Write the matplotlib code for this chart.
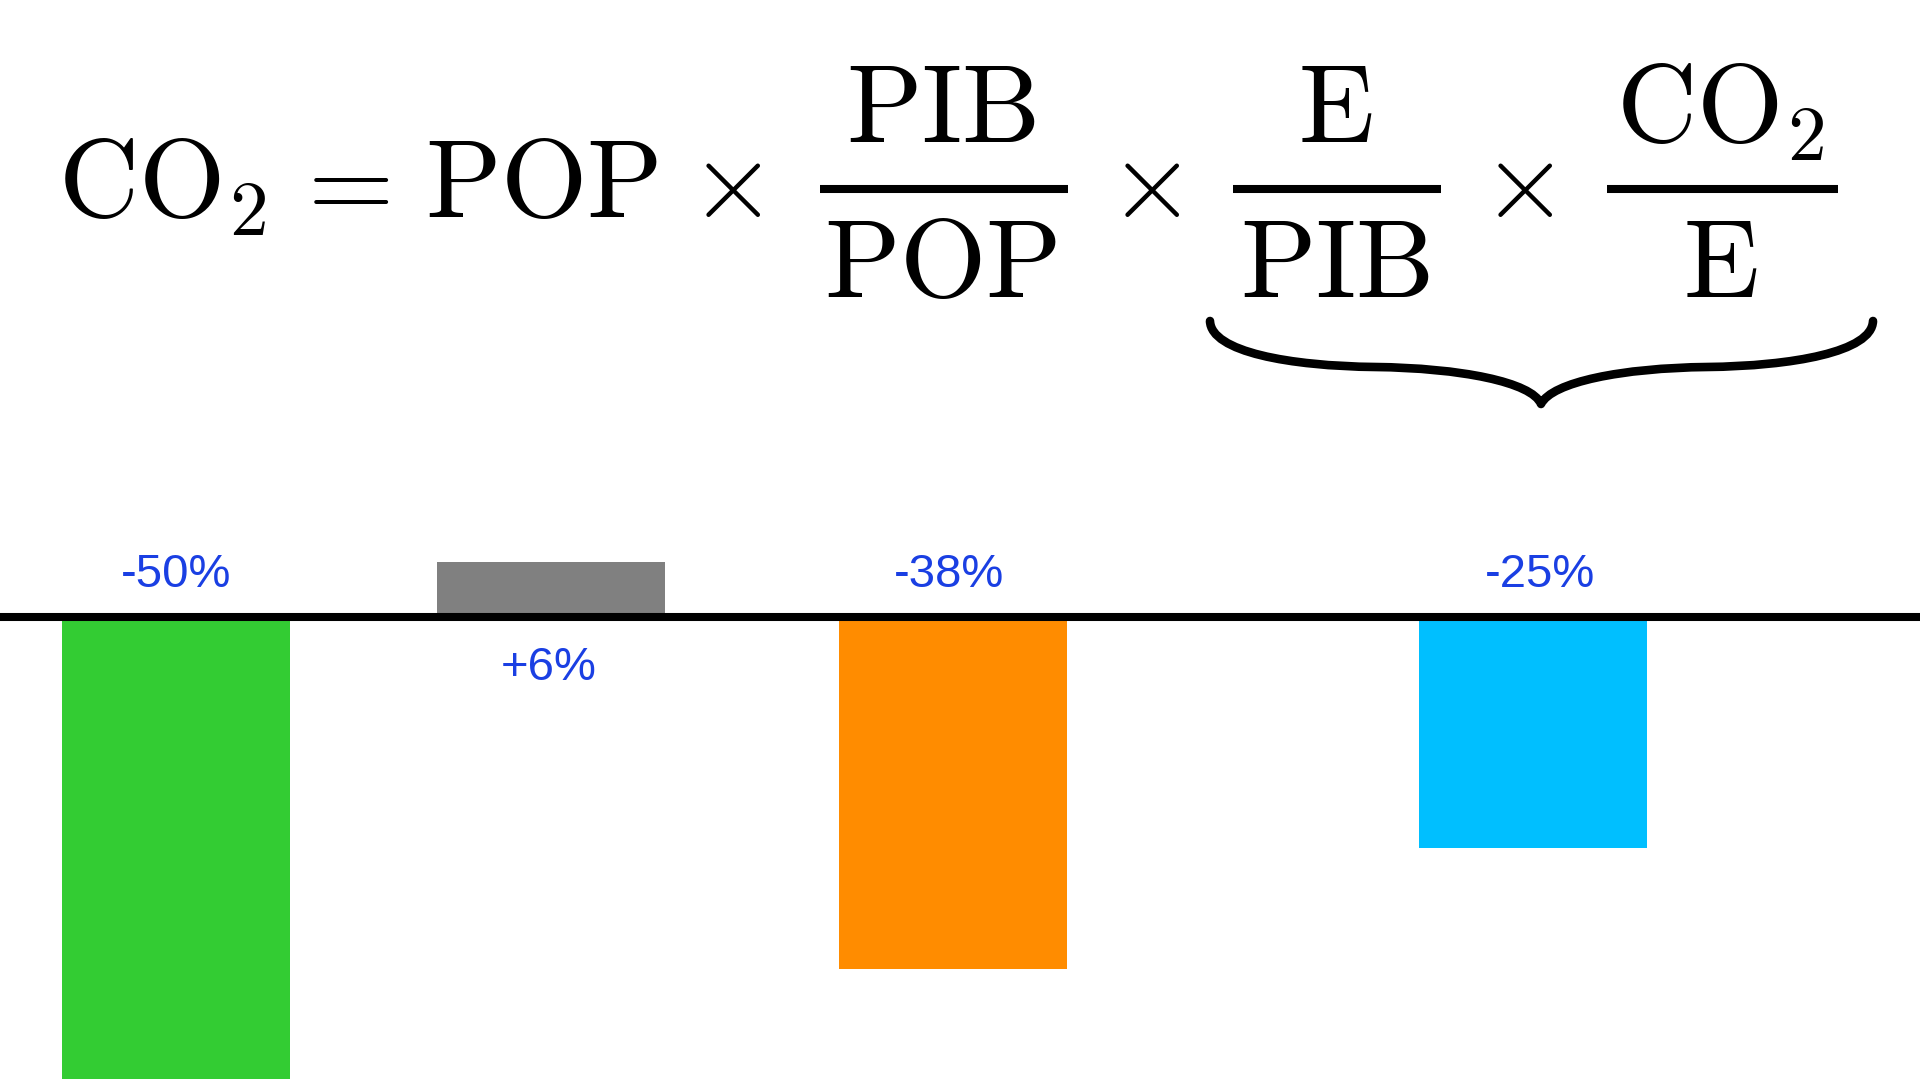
import matplotlib
matplotlib.use("Agg")
import matplotlib.pyplot as plt
from matplotlib.path import Path
from matplotlib.patches import PathPatch

# data
facteurs = ["POP", "PIB/POP", "E/PIB", "CO2/E"]
variations = [-50, 6, -38, -25]
etiquettes = ["-50%", "+6%", "-38%", "-25%"]
couleurs = ["#33cc33", "#808080", "#ff8c00", "#00bfff"]

# positions along x (pixel-like units, 0..1920)
x_pos = [176, 551, 953, 1533]
x_lab = [176, 549, 949, 1540]

plt.rcParams['mathtext.fontset'] = 'cm'
plt.rcParams['font.family'] = ['Liberation Sans', 'DejaVu Sans']

W, H = 1920, 1079
fig = plt.figure(figsize=(W / 100, H / 100), dpi=100)
fig.patch.set_facecolor('white')

# bar chart: zero line at y=617 px from top, 9.25 px per percent
px_per_pct = 9.25
y0 = 617
ax = fig.add_axes([0, 0, 1, 1])
ax.bar(x_pos, variations, width=228, color=couleurs, zorder=2)
ax.axhline(0, color='black', lw=5.8, zorder=3)
for x, v, lab in zip(x_lab, variations, etiquettes):
    off = 30.5 if v < 0 else -36.5
    ax.annotate(lab, (x, 0), xytext=(0, off), textcoords='offset points',
                ha='center', va='center', fontsize=34, color='#1a3fe3')
ax.set_xlim(0, W)
ax.set_ylim(-(H - y0) / px_per_pct, y0 / px_per_pct)
ax.axis('off')

# formula overlay in pixel coordinates
axf = fig.add_axes([0, 0, 1, 1])
axf.set_xlim(0, W)
axf.set_ylim(H, 0)
axf.axis('off')
axf.patch.set_alpha(0)

fs = 80
base = 217
num_base = 142
den_base = 297
bar_y = 189

axf.text(162, base, r'$\mathrm{CO}_2$', ha='center', va='baseline', fontsize=fs)
axf.text(339, base, r'$=$', ha='center', va='baseline', fontsize=fs)
axf.text(542, base, r'$\mathrm{POP}$', ha='center', va='baseline', fontsize=fs)
for xc in [725, 1144, 1517]:
    axf.text(xc, base, r'$\times$', ha='center', va='baseline', fontsize=fs)

fractions = [
    (941, 820, 1068, r'$\mathrm{PIB}$', r'$\mathrm{POP}$'),
    (1335, 1233, 1441, r'$\mathrm{E}$', r'$\mathrm{PIB}$'),
    (1720, 1607, 1838, r'$\mathrm{CO}_2$', r'$\mathrm{E}$'),
]
for xc, x1, x2, num, den in fractions:
    axf.text(xc, num_base, num, ha='center', va='baseline', fontsize=fs)
    axf.text(xc, den_base, den, ha='center', va='baseline', fontsize=fs)
    axf.plot([x1, x2], [bar_y, bar_y], color='black', lw=5.8, solid_capstyle='butt')

# curly brace under the last two factors
verts = [
    (1210, 321),
    (1211, 352), (1290, 366), (1375, 367),
    (1460, 368), (1532, 382), (1541, 404),
    (1552, 382), (1622, 368), (1707, 367),
    (1792, 366), (1872, 352), (1873, 321),
]
codes = [Path.MOVETO] + [Path.CURVE4] * 12
brace = PathPatch(Path(verts, codes), facecolor='none', edgecolor='black',
                  lw=6.2, capstyle='round', joinstyle='round')
axf.add_patch(brace)

fig.savefig('out.png', dpi=100, facecolor='white')
